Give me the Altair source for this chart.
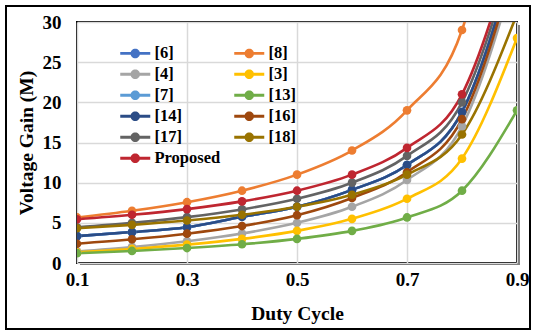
import altair as alt
import pandas as pd

duty = [0.1, 0.2, 0.3, 0.4, 0.5, 0.6, 0.7, 0.8, 0.9]

series_names = ["[6]", "[8]", "[4]", "[3]", "[7]", "[13]", "[14]", "[16]", "[17]", "[18]", "Proposed"]
series_colors = ["#4472C4", "#ED7D31", "#A5A5A5", "#FFC000", "#5B9BD5", "#70AD47",
                 "#2B4C86", "#9E480E", "#636363", "#997300", "#BF2630"]
# legend is filled column by column: left column first, then right column
legend_order = ["[6]", "[4]", "[7]", "[14]", "[17]", "Proposed", "[8]", "[3]", "[13]", "[16]", "[18]"]

s6 = [3.35, 3.85, 4.45, 5.75, 7.0, 9.1, 12.2, 18.8, 39.0]
s8 = [5.67, 6.5, 7.57, 9.0, 11.0, 14.0, 19.0, 29.0, 59.0]
s4 = [1.44, 2.0, 2.71, 3.67, 5.0, 7.0, 10.33, 17.0, 37.0]
s3 = [1.33, 1.75, 2.29, 3.0, 4.0, 5.5, 8.0, 13.0, 28.0]
s7 = [3.35, 3.85, 4.45, 5.75, 7.0, 9.1, 12.2, 18.8, 39.0]
s13 = [1.22, 1.5, 1.86, 2.33, 3.0, 4.0, 5.67, 9.0, 19.0]
s14 = [3.35, 3.85, 4.45, 5.75, 7.0, 9.1, 12.2, 18.8, 39.0]
s16 = [2.4, 2.95, 3.65, 4.6, 5.95, 8.1, 11.3, 17.9, 38.0]
s17 = [4.44, 5.0, 5.71, 6.67, 8.0, 10.0, 13.33, 20.0, 40.0]
s18 = [4.33, 4.75, 5.29, 6.0, 7.0, 8.5, 11.0, 16.0, 31.0]
proposed = [5.44, 6.0, 6.71, 7.67, 9.0, 11.0, 14.33, 21.0, 41.0]

all_values = [s6, s8, s4, s3, s7, s13, s14, s16, s17, s18, proposed]

rows = []
for i, (name, vals) in enumerate(zip(series_names, all_values)):
    for d, v in zip(duty, vals):
        rows.append({"Duty": d, "Gain": v, "Series": name, "k": i})
df = pd.DataFrame(rows)

color_of = dict(zip(series_names, series_colors))
legend_colors = [color_of[n] for n in legend_order]

x_ticks = [0.1, 0.3, 0.5, 0.7, 0.9]
y_ticks = [0, 5, 10, 15, 20, 25, 30]

FONT = "Liberation Serif"

xenc = alt.X("Duty:Q", scale=alt.Scale(domain=[0.1, 0.9], nice=False),
             axis=alt.Axis(values=x_ticks, format=".1f", title="Duty Cycle",
                           labelFlush=False, labelPadding=7, titlePadding=15))
yenc = alt.Y("Gain:Q", scale=alt.Scale(domain=[0, 30], nice=False),
             axis=alt.Axis(values=y_ticks, title="Voltage Gain (M)",
                           labelFlush=False, labelPadding=16, titlePadding=6))

legend_path = ("M-3,-0.28L3,-0.28L3,0.28L-3,0.28Z"
               "M-0.95,0A0.95,0.95,0,1,1,0.95,0A0.95,0.95,0,1,1,-0.95,0Z")

lines = alt.Chart(df).mark_line(interpolate="monotone", strokeWidth=2.6, clip=True).encode(
    x=xenc, y=yenc,
    stroke=alt.Stroke("Series:N", scale=alt.Scale(domain=series_names, range=series_colors),
                      legend=None),
    order=alt.Order("Duty:Q"),
)

points = alt.Chart(df).mark_point(filled=True, size=75, opacity=1, clip=True).encode(
    x=xenc, y=yenc,
    color=alt.Color("Series:N", scale=alt.Scale(domain=legend_order, range=legend_colors),
                    legend=alt.Legend(title=None, orient="none", legendX=50, legendY=23,
                                      columns=2, columnPadding=13, rowPadding=4,
                                      symbolType=legend_path, symbolSize=100,
                                      symbolOpacity=1, labelOffset=11, padding=0,
                                      labelFont=FONT, labelFontSize=16.5,
                                      labelFontWeight="bold", labelColor="black",
                                      symbolStrokeWidth=0)),
)

frame = pd.DataFrame({"a": [0]})
outer = alt.Chart(frame).mark_rect(filled=False, stroke="black", strokeWidth=2).encode(
    x=alt.value(-71), x2=alt.value(453), y=alt.value(-16), y2=alt.value(307))
shadow_r = alt.Chart(frame).mark_rect(color="#808080").encode(
    x=alt.value(441), x2=alt.value(443), y=alt.value(3), y2=alt.value(243))
shadow_b = alt.Chart(frame).mark_rect(color="#808080").encode(
    x=alt.value(3), x2=alt.value(443), y=alt.value(242), y2=alt.value(243))

chart = alt.layer(shadow_r, shadow_b, lines, points, outer).resolve_scale(
    color="independent", stroke="independent"
).properties(
    width=440, height=241,
    padding={"left": 77, "top": 22, "right": 18, "bottom": 70},
    autosize=alt.AutoSizeParams(type="none"),
    background="white",
).configure_view(
    stroke="black", strokeWidth=2
).configure_axis(
    labelFont=FONT, labelFontSize=19, labelFontWeight="bold", labelColor="black",
    titleFont=FONT, titleFontSize=19.5, titleFontWeight="bold", titleColor="black",
    ticks=False, domain=False, grid=True, gridColor="#d9d9d9", gridWidth=1.5,
)

chart.save("out.html", embed_options={"renderer": "svg", "actions": False})
